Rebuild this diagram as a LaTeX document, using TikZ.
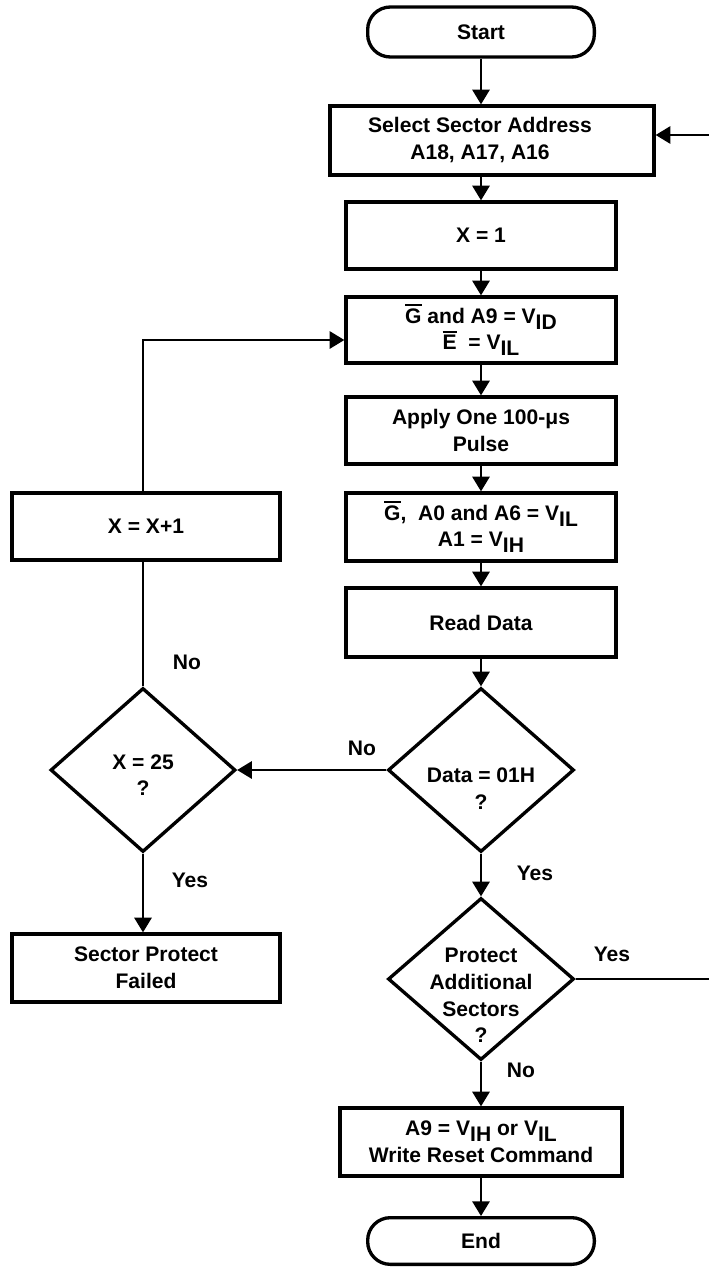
\documentclass[tikz,border=0pt]{standalone}
\usepackage{fontspec}
\setmainfont{Liberation Sans}
\usetikzlibrary{arrows.meta,shapes.geometric}
\newcommand\ovl[1]{\leavevmode\vbox{\hrule height 1.4pt\kern1.6pt\hbox{#1}}}
\newcommand\lsub[1]{\raisebox{-4.5pt}{#1}}
\newcommand\dtext[2]{\raisebox{#1}[0pt][0pt]{\makebox[0pt]{\begin{tabular}[c]{@{}c@{}}#2\end{tabular}}}}
\begin{document}
\begin{tikzpicture}[x=0.75pt,y=-0.75pt,
  font=\fontsize{15.8}{20}\selectfont\bfseries,
  box/.style={draw, line width=2.5pt, align=center, inner sep=0pt},
  term/.style={box, rounded corners=17pt},
  dec/.style={draw, diamond, line width=2.5pt, inner sep=0pt, minimum width=139.5pt},
  conn/.style={line width=1.4pt, -{Triangle[length=11pt,width=13pt]}},
  plainline/.style={line width=1.3pt},
  lbl/.style={inner sep=0pt}]
\useasboundingbox (0,0) rectangle (709,1268);
% main column
\node[term, minimum width=170pt, minimum height=37.5pt] (start) at (481,32) {Start};
\node[box, minimum width=243pt, minimum height=51.75pt] (sel) at (492,140.5)
  {\raisebox{-2pt}{\begin{tabular}{@{}c@{}}Select Sector Address\\A18, A17, A16\end{tabular}}\kern18pt};
\node[box, minimum width=202.5pt, minimum height=50.25pt] (x1) at (481,235.5) {X = 1};
\node[box, minimum width=202.5pt, minimum height=49.5pt] (g) at (481,330)
  {\ovl{G} and A9 = V\lsub{ID}\\\ovl{E}\ \ = V\lsub{IL}};
\node[box, minimum width=202.5pt, minimum height=50.25pt] (apply) at (481,430.5) {Apply One 100-μs\\Pulse};
\node[box, minimum width=202.5pt, minimum height=51pt] (ga0) at (481,527)
  {\ovl{G},\ \ A0 and A6 = V\lsub{IL}\\A1 = V\lsub{IH}};
\node[box, minimum width=202.5pt, minimum height=51.75pt] (read) at (481,622.5) {Read Data};
\node[dec, minimum height=123pt] (data) at (481,770) {\dtext{-19pt}{Data = 01H\\?}};
\node[dec, minimum height=121.5pt] (prot) at (481,979) {\dtext{-17.5pt}{Protect\\Additional\\Sectors\\?}};
\node[box, minimum width=211.5pt, minimum height=51pt] (a9) at (481,1142)
  {A9 = V\lsub{IH} or V\lsub{IL}\\Write Reset Command};
\node[term, minimum width=170pt, minimum height=35pt] (end) at (481,1241) {End};
% left column
\node[box, minimum width=201pt, minimum height=50.25pt] (xinc) at (146,526.5) {X = X+1};
\node[dec, minimum height=123pt, minimum width=138.75pt] (x25) at (143,770) {\dtext{-9pt}{X = 25\\?}};
\node[box, minimum width=201pt, minimum height=51pt] (fail) at (146,968) {Sector Protect\\Failed};
% labels
\node[lbl] (noA) at (187,662) {No};
\node[lbl] (noB) at (362,748) {No};
\node[lbl] (yesA) at (190,880) {Yes};
\node[lbl] (yesB) at (535,873) {Yes};
\node[lbl] (yesC) at (612,954) {Yes};
\node[lbl] (noC) at (521,1070) {No};
% edge coordinates
\coordinate (rA) at (709,979);
\coordinate (rB) at (709,135);
% connectors
\draw[conn] (start) -- (sel.north -| start);
\draw[conn] (sel.south -| x1) -- (x1);
\draw[conn] (x1) -- (g);
\draw[conn] (g) -- (apply);
\draw[conn] (apply) -- (ga0);
\draw[conn] (ga0) -- (read);
\draw[conn] (read) -- (data);
\draw[conn] (data) -- (prot);
\draw[conn] (prot) -- (a9);
\draw[conn] (a9) -- (end);
\draw[conn] (data) -- (x25);
\draw[conn] (x25) -- (fail.north -| x25);
\draw[plainline] (x25) -- (xinc.south -| x25);
\draw[conn] (xinc.north -| x25) |- ([yshift=-7.5pt]g.west);
\draw[plainline] (prot) -- (rA);
\draw[conn] (rB) -- (rB -| sel.east);
\end{tikzpicture}
\end{document}
